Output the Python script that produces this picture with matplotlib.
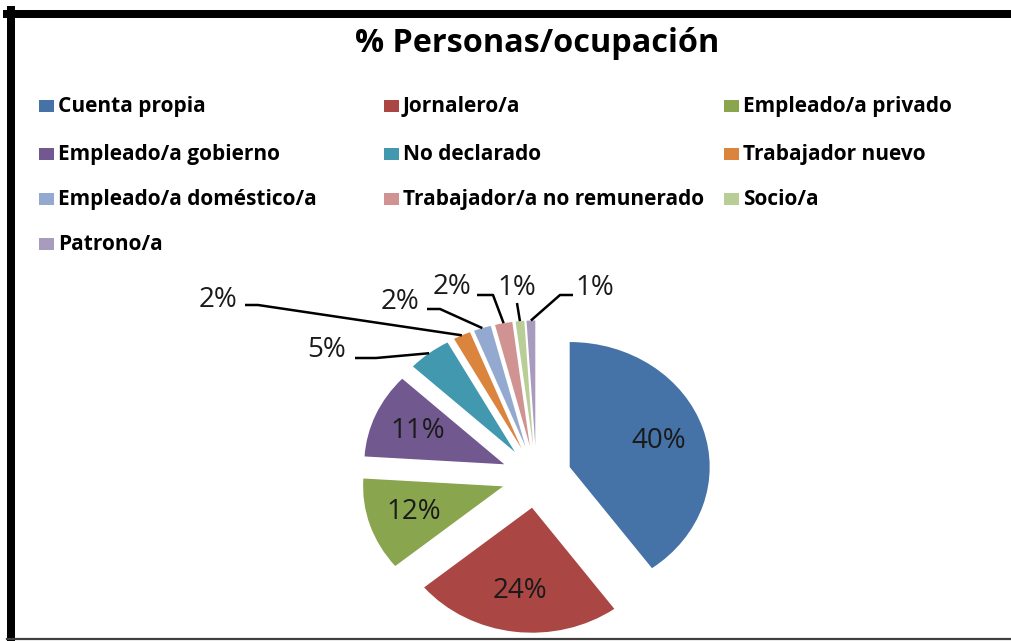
import matplotlib
matplotlib.use("Agg")
import matplotlib.pyplot as plt
from matplotlib.patches import Rectangle
from matplotlib.lines import Line2D
import numpy as np

# ---------------- data ----------------
categories = ["Cuenta propia", "Jornalero/a", "Empleado/a privado",
              "Empleado/a gobierno", "No declarado", "Trabajador nuevo",
              "Empleado/a doméstico/a", "Trabajador/a no remunerado",
              "Socio/a", "Patrono/a"]
values = [40, 24, 12, 11, 5, 2, 2, 2, 1, 1]
colors = ["#4572A7", "#AA4643", "#89A54E", "#71588F", "#4198AF",
          "#DB843D", "#93A9CF", "#D19392", "#B9CD96", "#A99BBD"]
title = "% Personas/ocupación"

# ---------------- layout (pixels) ----------------
W, H = 1012, 641
CX, CY = 536.4, 476.7      # pie centre in pixel coords (y down)
RX, RY = 140.0, 125.0      # pixel size of one data unit
EXPLODE = 0.25

# outer label layout for the small slices: text centre, leader elbow points
outer_layout = {
    4: ((327, 350), [(355, 358), (376, 358)]),
    5: ((218, 300), [(245, 305), (258, 305)]),
    6: ((400, 302), [(427, 309), (440, 309)]),
    7: ((452, 287), [(477, 295), (493, 295)]),
    8: ((517, 288), [(517, 303)]),
    9: ((595, 288), [(573, 295), (560, 295)]),
}

plt.rcParams["font.family"] = ["Open Sans", "DejaVu Sans"]
fig = plt.figure(figsize=(W / 100, H / 100), dpi=100)
fig.patch.set_facecolor("white")

def fx(px):
    return px / W

def fy(py):
    return 1 - py / H

# frame
fig.add_artist(Line2D([fx(11), fx(11)], [fy(10), fy(639)], color="black", lw=8 * 0.72))
fig.add_artist(Line2D([fx(7), fx(1012)], [fy(14), fy(14)], color="black", lw=8 * 0.72))
fig.add_artist(Line2D([fx(7), fx(1012)], [fy(639), fy(639)], color="#404040", lw=1.6))

# title
fig.text(fx(537), fy(43), title, ha="center", va="center", fontsize=23.3,
         fontweight="bold", color="black")

# legend (manual grid)
col_x = [39, 384, 724]
row_base = [112, 160, 205, 250]
for i, (cat, col) in enumerate(zip(categories, colors)):
    r, c = divmod(i, 3)
    x0, yb = col_x[c], row_base[r]
    fig.add_artist(Rectangle((fx(x0), fy(yb)), 15 / W, 12 / H,
                             facecolor=col, edgecolor="none",
                             transform=fig.transFigure))
    fig.text(fx(x0 + 19), fy(yb), cat, ha="left", va="baseline", fontsize=15,
             fontweight="bold", color="black")

# pie
ax = fig.add_axes([0, 0, 1, 1])
wedges, texts, autotexts = ax.pie(
    values, colors=colors, startangle=90, counterclock=False,
    explode=[EXPLODE] * len(values), radius=1.0,
    wedgeprops=dict(linewidth=0),
    autopct=lambda p: f"{p:.0f}%" if p >= 10 else "",
    pctdistance=0.67, textprops=dict(fontsize=20, color="#1a1a1a"))
ax.set_aspect("auto")
ax.set_xlim(-CX / RX, (W - CX) / RX)
ax.set_ylim(-(H - CY) / RY, CY / RY)
ax.axis("off")

def to_data(px, py):
    return (px - CX) / RX, (CY - py) / RY

for i, (tpos, elbows) in outer_layout.items():
    w = wedges[i]
    mid = np.deg2rad((w.theta1 + w.theta2) / 2)
    ax_anchor = (1 + EXPLODE) * np.cos(mid)
    ay_anchor = (1 + EXPLODE) * np.sin(mid)
    pts = [to_data(*p) for p in elbows] + [(ax_anchor, ay_anchor)]
    xs, ys = zip(*pts)
    ax.plot(xs, ys, color="black", lw=1.8, solid_capstyle="butt")
    tx, ty = to_data(*tpos)
    pct = 100 * values[i] / sum(values)
    ax.text(tx, ty, f"{pct:.0f}%", ha="center", va="center", fontsize=20,
            color="#1a1a1a")

fig.savefig("out.png", dpi=100, facecolor="white")
